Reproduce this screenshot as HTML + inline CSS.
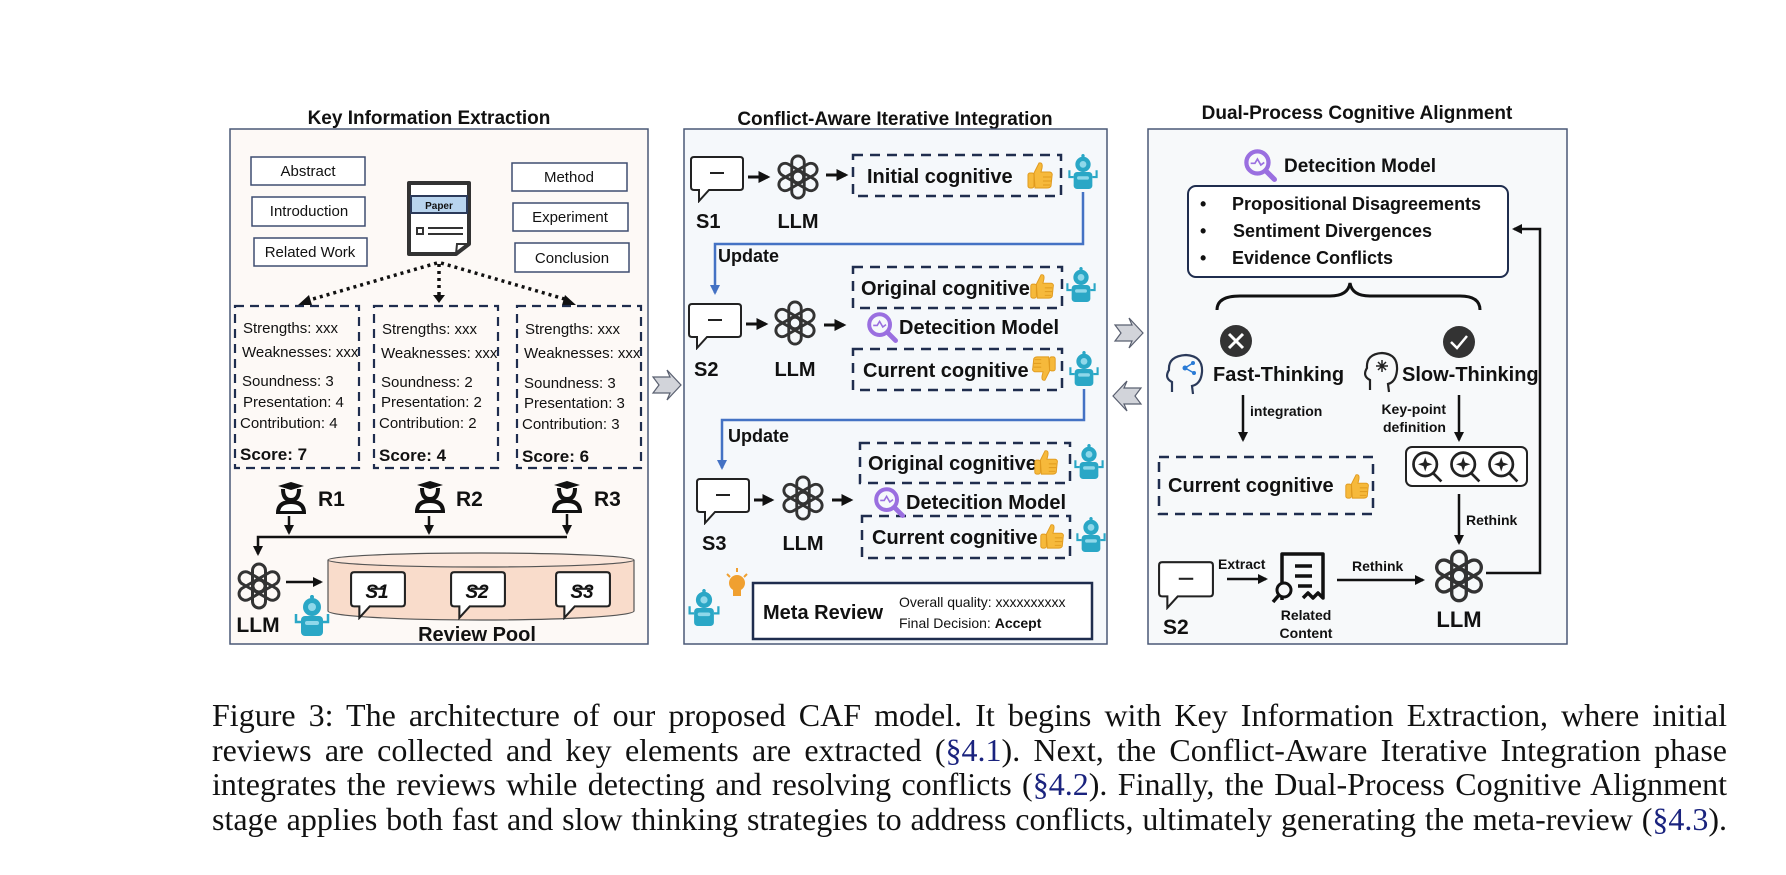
<!DOCTYPE html>
<html><head><meta charset="utf-8"><style>
html,body{margin:0;padding:0;background:#fff;width:1786px;height:875px;overflow:hidden}
svg{position:absolute;left:0;top:0}
.cap{position:absolute;left:212px;top:698px;width:1515px;font-family:"Liberation Serif",serif;font-size:32px;line-height:34.5px;color:#111}
.cap div{text-align:justify;text-align-last:justify;white-space:nowrap}
.cap span{color:#1a237e}
text{font-family:"Liberation Sans",sans-serif;fill:#111}
.b{font-weight:bold}
</style></head><body>
<svg width="1786" height="700" viewBox="0 0 1786 700">
<defs>
<symbol id="llm" viewBox="-50 -50 100 100">
<g fill="none" stroke="#333" stroke-width="6">
<rect x="-13" y="-44" width="26" height="56" rx="13"/>
<rect x="-13" y="-44" width="26" height="56" rx="13" transform="rotate(60)"/>
<rect x="-13" y="-44" width="26" height="56" rx="13" transform="rotate(120)"/>
<rect x="-13" y="-44" width="26" height="56" rx="13" transform="rotate(180)"/>
<rect x="-13" y="-44" width="26" height="56" rx="13" transform="rotate(240)"/>
<rect x="-13" y="-44" width="26" height="56" rx="13" transform="rotate(300)"/>
</g></symbol>
<symbol id="robot" viewBox="0 0 40 44">
<line x1="20" y1="1" x2="20" y2="5" stroke="#2aa7c6" stroke-width="2"/>
<circle cx="20" cy="3" r="2" fill="#2aa7c6"/>
<circle cx="20" cy="13" r="9" fill="#2aa7c6"/>
<circle cx="20" cy="13" r="4" fill="#8fd8ea"/>
<rect x="9" y="22" width="22" height="20" rx="4" fill="#2aa7c6"/>
<rect x="13" y="27" width="14" height="4" rx="2" fill="#8fd8ea"/>
<path d="M9 28 H4 V20 M31 28 H36 V20" fill="none" stroke="#2aa7c6" stroke-width="2.5"/>
</symbol>
<symbol id="thumb" viewBox="0 0 30 30">
<path d="M9 13 L14 3 Q18 2 17 8 L16 12 L25 12 Q28 13 27 16 L26 26 Q25 28 22 28 L10 28 Z" fill="#f6b93b" stroke="#e09a1e" stroke-width="1"/>
<rect x="3" y="13" width="6" height="15" rx="2" fill="#f6b93b" stroke="#e09a1e" stroke-width="1"/>
<path d="M18 17 H26 M18 21 H26 M18 25 H25" stroke="#e09a1e" stroke-width="1"/>
</symbol>
<symbol id="bubble" viewBox="0 0 56 48">
<path d="M5 2 H51 Q54 2 54 5 V32 Q54 35 51 35 H20 L10 46 L10 35 H5 Q2 35 2 32 V5 Q2 2 5 2 Z" fill="#fff" stroke="#222" stroke-width="2"/>
<line x1="21" y1="18" x2="35" y2="18" stroke="#222" stroke-width="2"/>
</symbol>
<symbol id="mag" viewBox="0 0 40 40">
<circle cx="17" cy="17" r="13" fill="none" stroke="#9a6fe0" stroke-width="5"/>
<path d="M9 18 L14 18 L17 13 L21 20 L25 17" fill="none" stroke="#9a6fe0" stroke-width="2"/>
<line x1="27" y1="27" x2="37" y2="37" stroke="#9a6fe0" stroke-width="6" stroke-linecap="round"/>
</symbol>
<symbol id="magp" viewBox="0 0 40 40">
<circle cx="18" cy="17" r="13" fill="none" stroke="#222" stroke-width="3"/>
<path d="M18 9 L20 15 L26 17 L20 19 L18 25 L16 19 L10 17 L16 15 Z" fill="#222"/>
<line x1="27" y1="27" x2="36" y2="36" stroke="#222" stroke-width="3"/>
</symbol>
<symbol id="rev" viewBox="0 0 34 34">
<path d="M4 6 L17 2 L30 6 L17 10 Z" fill="#111"/>
<path d="M9 9 Q9 20 17 20 Q25 20 25 9" fill="none" stroke="#111" stroke-width="4"/>
<path d="M4 33 Q4 22 17 22 Q30 22 30 33 Z" fill="#fff" stroke="#111" stroke-width="4"/>
</symbol>
<marker id="ah" viewBox="0 0 10 10" refX="8" refY="5" markerWidth="4" markerHeight="4" orient="auto"><path d="M0 0 L10 5 L0 10 Z" fill="#111"/></marker>
<marker id="ahb" viewBox="0 0 10 10" refX="8" refY="5" markerWidth="4" markerHeight="4" orient="auto"><path d="M0 0 L10 5 L0 10 Z" fill="#4472c4"/></marker>
</defs>

<text x="429" y="124" class="b" font-size="19" text-anchor="middle">Key Information Extraction</text>
<text x="895" y="125" class="b" font-size="19" text-anchor="middle">Conflict-Aware Iterative Integration</text>
<text x="1357" y="119" class="b" font-size="19" text-anchor="middle">Dual-Process Cognitive Alignment</text>

<rect x="230" y="129" width="418" height="515" fill="#fdf9f6" stroke="#4a5877" stroke-width="1.5"/>
<rect x="684" y="129" width="423" height="515" fill="#f5f8fb" stroke="#4a5877" stroke-width="1.5"/>
<rect x="1148" y="129" width="419" height="515" fill="#f7f9fa" stroke="#4a5877" stroke-width="1.5"/>

<g fill="#d2d4da" stroke="#5a6070" stroke-width="1.2">
<path d="M653 377 H670 L667 370 L681 385 L667 400 L670 393 H653 L659 385 Z"/>
<path d="M1115 325 H1132 L1129 318 L1143 333 L1129 348 L1132 341 H1115 L1121 333 Z"/>
<path d="M1141 388 H1124 L1127 381 L1113 396 L1127 411 L1124 404 H1141 L1135 396 Z"/>
</g>

<g fill="#fff" stroke="#3f4d70" stroke-width="1.5">
<rect x="251" y="157" width="114" height="28"/>
<rect x="252" y="197" width="113" height="29"/>
<rect x="254" y="238" width="113" height="28"/>
<rect x="512" y="163" width="115" height="28"/>
<rect x="513" y="203" width="115" height="28"/>
<rect x="515" y="243" width="114" height="29"/>
</g>
<g font-size="15" text-anchor="middle">
<text x="308" y="176">Abstract</text>
<text x="309" y="216">Introduction</text>
<text x="310" y="257">Related Work</text>
<text x="569" y="182">Method</text>
<text x="570" y="222">Experiment</text>
<text x="572" y="263">Conclusion</text>
</g>
<path d="M409 183 H469 V244 L456 254 H409 Z" fill="#fff" stroke="#333" stroke-width="4" stroke-linejoin="round"/>
<rect x="411" y="196" width="56" height="17" fill="#b8d4ee" stroke="#2b3a5a" stroke-width="2"/>
<text x="439" y="209" font-size="10" class="b" text-anchor="middle">Paper</text>
<rect x="417" y="228" width="6" height="6" fill="none" stroke="#333" stroke-width="2"/>
<path d="M428 228 H463 M428 234 H463 M456 254 L457 244 H469" fill="none" stroke="#333" stroke-width="2"/>
<g stroke="#111" stroke-width="3.5" stroke-dasharray="3 4" fill="none">
<path d="M437 263 L306 301"/>
<path d="M439 264 V295"/>
<path d="M441 263 L568 300"/>
</g>
<path d="M298 305 L309 295 L312 305 Z M433 295 H445 L439 303 Z M576 305 L565 295 L562 305 Z" fill="#111"/>
<g fill="none" stroke="#1f2d4e" stroke-width="2.2" stroke-dasharray="9 6">
<rect x="235" y="306" width="124" height="162"/>
<rect x="374" y="306" width="124" height="162"/>
<rect x="517" y="306" width="124" height="162"/>
</g>
<g font-size="15">
<text x="243" y="333">Strengths: xxx</text><text x="242" y="357">Weaknesses: xxx</text>
<text x="242" y="386">Soundness: 3</text><text x="243" y="407">Presentation: 4</text><text x="240" y="428">Contribution: 4</text>
<text x="382" y="334">Strengths: xxx</text><text x="381" y="358">Weaknesses: xxx</text>
<text x="381" y="387">Soundness: 2</text><text x="381" y="407">Presentation: 2</text><text x="379" y="428">Contribution: 2</text>
<text x="525" y="334">Strengths: xxx</text><text x="524" y="358">Weaknesses: xxx</text>
<text x="524" y="388">Soundness: 3</text><text x="524" y="408">Presentation: 3</text><text x="522" y="429">Contribution: 3</text>
</g>
<g font-size="17" class="b">
<text x="240" y="460" class="b">Score: 7</text><text x="379" y="461" class="b">Score: 4</text><text x="522" y="462" class="b">Score: 6</text>
</g>
<use href="#rev" x="274" y="480" width="34" height="34"/>
<use href="#rev" x="413" y="479" width="34" height="34"/>
<use href="#rev" x="550" y="479" width="34" height="34"/>
<g font-size="21" class="b"><text x="318" y="506" class="b">R1</text><text x="456" y="506" class="b">R2</text><text x="594" y="506" class="b">R3</text></g>
<g stroke="#111" stroke-width="2.5" fill="none">
<path d="M289 516 V533" marker-end="url(#ah)"/>
<path d="M429 516 V533" marker-end="url(#ah)"/>
<path d="M567 514 V533" marker-end="url(#ah)"/>
<path d="M567 537 H258 V554" marker-end="url(#ah)"/>
<path d="M286 582 H321" marker-end="url(#ah)"/>
</g>
<use href="#llm" x="234" y="561" width="50" height="50"/>
<text x="258" y="632" class="b" font-size="21" text-anchor="middle">LLM</text>
<use href="#robot" x="292" y="593" width="40" height="46"/>
<path d="M328 560 V611 A153 9 0 0 0 634 611 V560" fill="#f9dccb" stroke="#555" stroke-width="1.2"/>
<ellipse cx="481" cy="560" rx="153" ry="7" fill="#fbe6da" stroke="#555" stroke-width="1.2"/>
<use href="#bubble" x="349" y="570" width="58" height="50"/>
<use href="#bubble" x="449" y="570" width="58" height="50"/>
<use href="#bubble" x="554" y="570" width="58" height="50"/>
<g font-size="19" class="b" font-style="italic" text-anchor="middle">
<text x="377" y="598">S1</text><text x="477" y="598">S2</text><text x="582" y="598">S3</text></g>
<text x="477" y="641" class="b" font-size="20" text-anchor="middle">Review Pool</text>

<use href="#bubble" x="689" y="155" width="56" height="48"/>
<use href="#bubble" x="687" y="302" width="56" height="48"/>
<use href="#bubble" x="695" y="477" width="56" height="48"/>
<g font-size="20" class="b">
<text x="696" y="228" class="b">S1</text><text x="694" y="376" class="b">S2</text><text x="702" y="550" class="b">S3</text>
<text x="798" y="228" class="b" text-anchor="middle">LLM</text><text x="795" y="376" class="b" text-anchor="middle">LLM</text><text x="803" y="550" class="b" text-anchor="middle">LLM</text>
</g>
<use href="#llm" x="774" y="153" width="48" height="48"/>
<use href="#llm" x="771" y="299" width="48" height="48"/>
<use href="#llm" x="779" y="474" width="48" height="48"/>
<g stroke="#111" stroke-width="3" fill="none">
<path d="M748 177 H768" marker-end="url(#ah)"/><path d="M826 175 H846" marker-end="url(#ah)"/>
<path d="M746 324 H766" marker-end="url(#ah)"/><path d="M824 325 H844" marker-end="url(#ah)"/>
<path d="M754 500 H772" marker-end="url(#ah)"/><path d="M832 500 H851" marker-end="url(#ah)"/>
</g>
<g fill="none" stroke="#1f2d4e" stroke-width="2.5" stroke-dasharray="10 7">
<rect x="853" y="155" width="208" height="41"/>
<rect x="853" y="267" width="209" height="41"/>
<rect x="853" y="349" width="209" height="41"/>
<rect x="860" y="443" width="210" height="40"/>
<rect x="862" y="516" width="208" height="42"/>
</g>
<g font-size="20" class="b">
<text x="867" y="183" class="b">Initial cognitive</text>
<text x="861" y="295" class="b">Original cognitive</text>
<text x="863" y="377" class="b">Current cognitive</text>
<text x="868" y="470" class="b">Original cognitive</text>
<text x="872" y="544" class="b">Current cognitive</text>
<text x="899" y="334" class="b">Detecition Model</text>
<text x="906" y="509" class="b">Detecition Model</text>
</g>
<use href="#thumb" x="1025" y="160" width="30" height="30"/>
<use href="#thumb" x="1028" y="272" width="28" height="28"/>
<use href="#thumb" x="1030" y="355" width="28" height="28" transform="rotate(180 1044 369)"/>
<use href="#thumb" x="1032" y="448" width="28" height="28"/>
<use href="#thumb" x="1038" y="522" width="28" height="28"/>
<use href="#mag" x="866" y="311" width="32" height="32"/>
<use href="#mag" x="873" y="486" width="32" height="32"/>
<use href="#robot" x="1066" y="153" width="34" height="38"/>
<use href="#robot" x="1064" y="266" width="34" height="38"/>
<use href="#robot" x="1067" y="350" width="34" height="38"/>
<use href="#robot" x="1072" y="443" width="34" height="38"/>
<use href="#robot" x="1074" y="516" width="34" height="38"/>
<g stroke="#4472c4" stroke-width="2.5" fill="none">
<path d="M1083 192 V244 H715 V293" marker-end="url(#ahb)"/>
<path d="M1084 389 V420 H722 V468" marker-end="url(#ahb)"/>
</g>
<g font-size="18" class="b"><text x="718" y="262" class="b">Update</text><text x="728" y="442" class="b">Update</text></g>
<use href="#robot" x="686" y="586" width="36" height="44"/>
<circle cx="737" cy="583" r="8" fill="#f0a030"/>
<rect x="733" y="590" width="8" height="6" fill="#f0a030"/>
<path d="M737 568 V572 M727 574 L730 577 M747 574 L744 577" stroke="#f0a030" stroke-width="2"/>
<rect x="753" y="583" width="339" height="56" fill="#fff" stroke="#1f2d4e" stroke-width="2.5"/>
<text x="763" y="619" class="b" font-size="20">Meta Review</text>
<text x="899" y="607" font-size="14">Overall quality: xxxxxxxxxx</text>
<text x="899" y="628" font-size="14">Final Decision: <tspan font-weight="bold">Accept</tspan></text>

<use href="#mag" x="1243" y="148" width="34" height="34"/>
<text x="1284" y="172" class="b" font-size="19">Detecition Model</text>
<rect x="1188" y="186" width="320" height="91" rx="8" fill="#fff" stroke="#1f2d4e" stroke-width="2"/>
<g font-size="18" class="b">
<text x="1200" y="210">•</text><text x="1200" y="237">•</text><text x="1200" y="264">•</text>
<text x="1232" y="210" class="b">Propositional Disagreements</text>
<text x="1233" y="237" class="b">Sentiment Divergences</text>
<text x="1232" y="264" class="b">Evidence Conflicts</text>
</g>
<path d="M1217 310 Q1217 296 1240 296 H1330 Q1348 296 1350 283 Q1352 296 1370 296 H1460 Q1480 296 1480 310" fill="none" stroke="#111" stroke-width="3"/>
<circle cx="1236" cy="341" r="16" fill="#333"/>
<path d="M1229 334 L1243 348 M1243 334 L1229 348" stroke="#fff" stroke-width="3"/>
<circle cx="1459" cy="342" r="16" fill="#333"/>
<path d="M1451 342 L1457 348 L1467 336" stroke="#fff" stroke-width="2.5" fill="none"/>
<path d="M1172 392 L1172 382 Q1164 378 1169 370 Q1168 356 1186 355 Q1203 356 1202 372 Q1201 384 1192 386 L1193 394" fill="none" stroke="#2b3a5a" stroke-width="2.2"/>
<circle cx="1185" cy="368" r="2.5" fill="#2a7bd6"/><circle cx="1193" cy="363" r="2" fill="#2a7bd6"/><circle cx="1194" cy="373" r="2" fill="#2a7bd6"/>
<path d="M1185 368 L1193 363 M1185 368 L1194 373" stroke="#2a7bd6" stroke-width="1.5"/>
<path d="M1370 390 L1370 380 Q1362 376 1367 368 Q1366 354 1382 353 Q1398 354 1397 370 Q1396 382 1388 384 L1389 392" fill="none" stroke="#222" stroke-width="2.2"/>
<path d="M1378 362 L1386 370 M1386 362 L1378 370 M1382 360 V372 M1376 366 H1388" stroke="#222" stroke-width="1.5"/>
<text x="1213" y="381" class="b" font-size="20">Fast-Thinking</text>
<text x="1402" y="381" class="b" font-size="20">Slow-Thinking</text>
<g stroke="#111" stroke-width="2.5" fill="none">
<path d="M1243 395 V440" marker-end="url(#ah)"/>
<path d="M1459 395 V440" marker-end="url(#ah)"/>
<path d="M1459 494 V543" marker-end="url(#ah)"/>
<path d="M1227 579 H1266" marker-end="url(#ah)"/>
<path d="M1337 580 H1423" marker-end="url(#ah)"/>
<path d="M1486 573 H1540 V229 H1514" marker-end="url(#ah)"/>
</g>
<g font-size="14" class="b">
<text x="1250" y="416">integration</text>
<text x="1446" y="414" text-anchor="end">Key-point</text>
<text x="1446" y="432" text-anchor="end">definition</text>
<text x="1466" y="525">Rethink</text>
<text x="1218" y="569">Extract</text>
<text x="1352" y="571">Rethink</text>
<text x="1306" y="620" text-anchor="middle">Related</text>
<text x="1306" y="638" text-anchor="middle">Content</text>
</g>
<rect x="1406" y="447" width="121" height="39" rx="6" fill="#fff" stroke="#222" stroke-width="2"/>
<use href="#magp" x="1409" y="449" width="36" height="36"/>
<use href="#magp" x="1447" y="449" width="36" height="36"/>
<use href="#magp" x="1485" y="449" width="36" height="36"/>
<rect x="1159" y="457" width="214" height="57" fill="none" stroke="#1f2d4e" stroke-width="2.5" stroke-dasharray="10 7"/>
<text x="1168" y="492" class="b" font-size="20">Current cognitive</text>
<use href="#thumb" x="1343" y="472" width="28" height="28"/>
<use href="#bubble" x="1157" y="560" width="58" height="50"/>
<text x="1163" y="634" class="b" font-size="21">S2</text>
<path d="M1282 600 V554 H1323 V598 L1318 593 L1313 598 L1308 593 L1303 598" fill="none" stroke="#111" stroke-width="3.5" stroke-linejoin="round"/>
<path d="M1295 566 H1312 M1295 576 H1312 M1298 586 H1312" stroke="#111" stroke-width="3.5"/>
<circle cx="1284" cy="590" r="7" fill="#f7f9fa" stroke="#111" stroke-width="3"/>
<line x1="1279" y1="595" x2="1273" y2="602" stroke="#111" stroke-width="3.5"/>
<use href="#llm" x="1431" y="548" width="56" height="56"/>
<text x="1459" y="627" class="b" font-size="22" text-anchor="middle">LLM</text>
</svg>
<div class="cap">
<div>Figure 3: The architecture of our proposed CAF model. It begins with Key Information Extraction, where initial</div>
<div>reviews are collected and key elements are extracted (<span>§4.1</span>). Next, the Conflict-Aware Iterative Integration phase</div>
<div>integrates the reviews while detecting and resolving conflicts (<span>§4.2</span>). Finally, the Dual-Process Cognitive Alignment</div>
<div>stage applies both fast and slow thinking strategies to address conflicts, ultimately generating the meta-review (<span>§4.3</span>).</div>
</div>
</body></html>
